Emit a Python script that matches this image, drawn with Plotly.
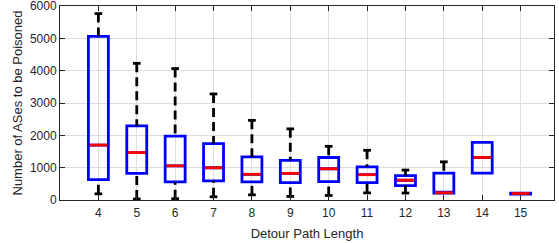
import plotly.graph_objects as go

categories = [4, 5, 6, 7, 8, 9, 10, 11, 12, 13, 14, 15]
lower_whisker = [190, 30, 40, 100, 160, 110, 140, 220, 215, 215, 834, 185]
q1_values = [630, 825, 560, 590, 560, 540, 570, 540, 446, 215, 834, 185]
median_values = [1700, 1467, 1058, 997, 795, 825, 966, 783, 611, 223, 1314, 200]
q3_values = [5062, 2292, 1975, 1742, 1333, 1223, 1314, 1027, 752, 834, 1782, 212]
upper_whisker = [5765, 4227, 4065, 3280, 2463, 2200, 1660, 1537, 926, 1180, 1782, 212]
y_ticks = [0, 1000, 2000, 3000, 4000, 5000, 6000]

BOX_W = 0.52
CAP_HALF = 0.1
MED_HALF = BOX_W / 2 - 0.03

fig = go.Figure()

# boxes (blue outline, no fill)
fig.add_trace(go.Box(
    x=categories, q1=q1_values, median=median_values, q3=q3_values,
    lowerfence=q1_values, upperfence=q3_values,
    width=BOX_W, line=dict(color="#0000ff", width=2.8),
    fillcolor="rgba(0,0,0,0)", whiskerwidth=0, boxpoints=False,
    hoverinfo="skip", showlegend=False,
))

# whiskers (black dashed)
wx, wy = [], []
cx, cy = [], []
for c, lo, a, b, hi in zip(categories, lower_whisker, q1_values, q3_values, upper_whisker):
    if hi > b:
        wx += [c, c, None]; wy += [hi, b, None]
        cx += [c - CAP_HALF, c + CAP_HALF, None]; cy += [hi, hi, None]
    if lo < a:
        wx += [c, c, None]; wy += [lo, a, None]
        cx += [c - CAP_HALF, c + CAP_HALF, None]; cy += [lo, lo, None]

fig.add_trace(go.Scatter(x=wx, y=wy, mode="lines",
                         line=dict(color="black", width=2.8, dash="9px,5px"),
                         hoverinfo="skip", showlegend=False))
fig.add_trace(go.Scatter(x=cx, y=cy, mode="lines",
                         line=dict(color="black", width=2.8),
                         hoverinfo="skip", showlegend=False))

# medians (red)
mx, my = [], []
for c, m in zip(categories, median_values):
    mx += [c - MED_HALF, c + MED_HALF, None]; my += [m, m, None]
fig.add_trace(go.Scatter(x=mx, y=my, mode="lines",
                         line=dict(color="#ff0000", width=2.8),
                         hoverinfo="skip", showlegend=False))

FONT = "Liberation Sans, Arial, sans-serif"
axis_common = dict(
    showline=True, linecolor="#262626", linewidth=1, mirror="ticks",
    ticks="inside", ticklen=5, tickcolor="#262626", tickwidth=1,
    showgrid=True, gridcolor="#dedede", gridwidth=1, zeroline=False,
    ticklabeloverflow="allow",
    tickfont=dict(family=FONT, size=12, color="#262626"),
)

fig.update_layout(
    width=559, height=243,
    margin=dict(l=60, r=5, t=6, b=43),
    paper_bgcolor="white", plot_bgcolor="white",
    showlegend=False,
    xaxis=dict(range=[3, 15.87], tickvals=categories,
               ticktext=[str(c) for c in categories],
               automargin=True, ticklabelstandoff=2,
               title=dict(text="Detour Path Length", standoff=9,
                          font=dict(family=FONT, size=13, color="#262626")),
               **axis_common),
    yaxis=dict(range=[0, 6000], tickvals=y_ticks,
               ticktext=[str(t) for t in y_ticks],
               automargin=False,
               title=dict(text="Number of ASes to be Poisoned", standoff=4,
                          font=dict(family=FONT, size=13, color="#262626")),
               **axis_common),
)

fig.write_html("out.html", config={"displayModeBar": False},
               post_script="document.body.style.margin='0px';")
